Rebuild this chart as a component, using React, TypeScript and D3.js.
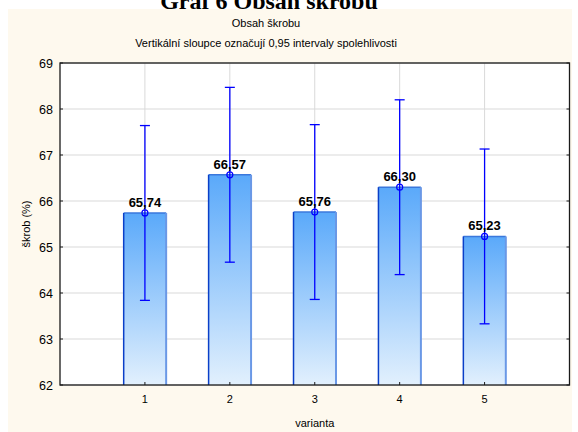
import React from "react";
import * as d3 from "d3";

const categories = ["1", "2", "3", "4", "5"];
const means = [65.74, 66.57, 65.76, 66.3, 65.23];
const lower = [63.84, 64.67, 63.86, 64.4, 63.33];
const upper = [67.64, 68.47, 67.66, 68.2, 67.13];
const yTicks = [62, 63, 64, 65, 66, 67, 68, 69];

const W = 578;
const H = 432;
const plot = { left: 60, right: 569.5, top: 63, bottom: 385 };

export default function App() {
  const x = d3.scaleLinear().domain([0, categories.length + 1]).range([plot.left, plot.right]);
  const y = d3.scaleLinear().domain([62, 69]).range([plot.bottom, plot.top]);
  const step = x(1) - x(0);
  const barW = step / 2;
  const fmt = (v: number) => v.toFixed(2).replace(".", ",");
  const sans = "Arial, 'Liberation Sans', sans-serif";

  return (
    <svg
      width={W}
      height={H}
      style={{ position: "absolute", left: 0, top: 0, display: "block" }}
    >
      <defs>
        <linearGradient id="barFill" x1="0" y1="0" x2="0" y2="1">
          <stop offset="0%" stopColor="#5aa9fa" />
          <stop offset="100%" stopColor="#e2f0fd" />
        </linearGradient>
      </defs>
      <rect x={0} y={0} width={W} height={H} fill="#ffffff" />
      <text
        x={269}
        y={9}
        textAnchor="middle"
        fontFamily="'Liberation Serif', 'Times New Roman', serif"
        fontWeight="bold"
        fontSize={24}
        fill="#000"
      >
        Graf 6 Obsah škrobu
      </text>
      <rect x={8} y={9} width={564} height={H - 9} fill="#fef9ee" />

      <text x={266} y={27} textAnchor="middle" fontFamily={sans} fontSize={11} fill="#000">
        Obsah škrobu
      </text>
      <text x={266} y={47} textAnchor="middle" fontFamily={sans} fontSize={11} fill="#000">
        Vertikální sloupce označují 0,95 intervaly spolehlivosti
      </text>

      <rect
        x={plot.left}
        y={plot.top}
        width={plot.right - plot.left}
        height={plot.bottom - plot.top}
        fill="#ffffff"
      />
      {yTicks.map((t) => (
        <line
          key={"gy" + t}
          x1={plot.left}
          x2={plot.right}
          y1={y(t)}
          y2={y(t)}
          stroke="#d9d9d9"
          strokeWidth={1}
        />
      ))}
      {categories.map((c, i) => (
        <line
          key={"gx" + c}
          x1={x(i + 1)}
          x2={x(i + 1)}
          y1={plot.top}
          y2={plot.bottom}
          stroke="#d9d9d9"
          strokeWidth={1}
        />
      ))}

      {categories.map((c, i) => {
        const cx = x(i + 1);
        const x0 = cx - barW / 2;
        const top = y(means[i]);
        return (
          <g key={"bar" + c}>
            <rect
              x={x0}
              y={top}
              width={barW}
              height={plot.bottom - top}
              fill="url(#barFill)"
            />
            <line x1={x0} x2={x0 + barW} y1={top} y2={top} stroke="#3a78dc" strokeWidth={1.5} />
            <line x1={x0} x2={x0} y1={top} y2={plot.bottom} stroke="#0a3fc8" strokeWidth={1.5} />
            <line
              x1={x0 + barW}
              x2={x0 + barW}
              y1={top}
              y2={plot.bottom}
              stroke="#6a98e6"
              strokeWidth={2}
            />
          </g>
        );
      })}

      {categories.map((c, i) => {
        const cx = x(i + 1);
        return (
          <g key={"err" + c} stroke="#0000ff" fill="none">
            <line x1={cx} x2={cx} y1={y(lower[i])} y2={y(upper[i])} strokeWidth={1.3} />
            <line x1={cx - 5} x2={cx + 5} y1={y(upper[i])} y2={y(upper[i])} strokeWidth={1.3} />
            <line x1={cx - 5} x2={cx + 5} y1={y(lower[i])} y2={y(lower[i])} strokeWidth={1.3} />
            <circle cx={cx} cy={y(means[i])} r={3} strokeWidth={1.2} />
          </g>
        );
      })}

      {categories.map((c, i) => (
        <text
          key={"lbl" + c}
          x={x(i + 1)}
          y={y(means[i]) - 6}
          textAnchor="middle"
          fontFamily={sans}
          fontWeight="bold"
          fontSize={13}
          fill="#000"
        >
          {fmt(means[i])}
        </text>
      ))}

      <rect
        x={plot.left}
        y={plot.top}
        width={plot.right - plot.left}
        height={plot.bottom - plot.top}
        fill="none"
        stroke="#1a1a1a"
        strokeWidth={1.3}
      />
      {yTicks.map((t) => (
        <g key={"ty" + t}>
          <line x1={plot.left} x2={plot.left + 3} y1={y(t)} y2={y(t)} stroke="#1a1a1a" />
          <line x1={plot.right - 3} x2={plot.right} y1={y(t)} y2={y(t)} stroke="#1a1a1a" />
          <text
            x={53}
            y={y(t) + 4.5}
            textAnchor="end"
            fontFamily={sans}
            fontSize={12.5}
            fill="#000"
          >
            {t}
          </text>
        </g>
      ))}
      {categories.map((c, i) => (
        <g key={"tx" + c}>
          <line
            x1={x(i + 1)}
            x2={x(i + 1)}
            y1={plot.bottom}
            y2={plot.bottom - 3}
            stroke="#1a1a1a"
          />
          <text
            x={x(i + 1)}
            y={403}
            textAnchor="middle"
            fontFamily={sans}
            fontSize={11}
            fill="#000"
          >
            {c}
          </text>
        </g>
      ))}
      <text
        x={(plot.left + plot.right) / 2}
        y={427}
        textAnchor="middle"
        fontFamily={sans}
        fontSize={11}
        fill="#000"
      >
        varianta
      </text>
      <text
        transform={`translate(30, ${(plot.top + plot.bottom) / 2}) rotate(-90)`}
        textAnchor="middle"
        fontFamily={sans}
        fontSize={11}
        fill="#000"
      >
        škrob (%)
      </text>
    </svg>
  );
}
